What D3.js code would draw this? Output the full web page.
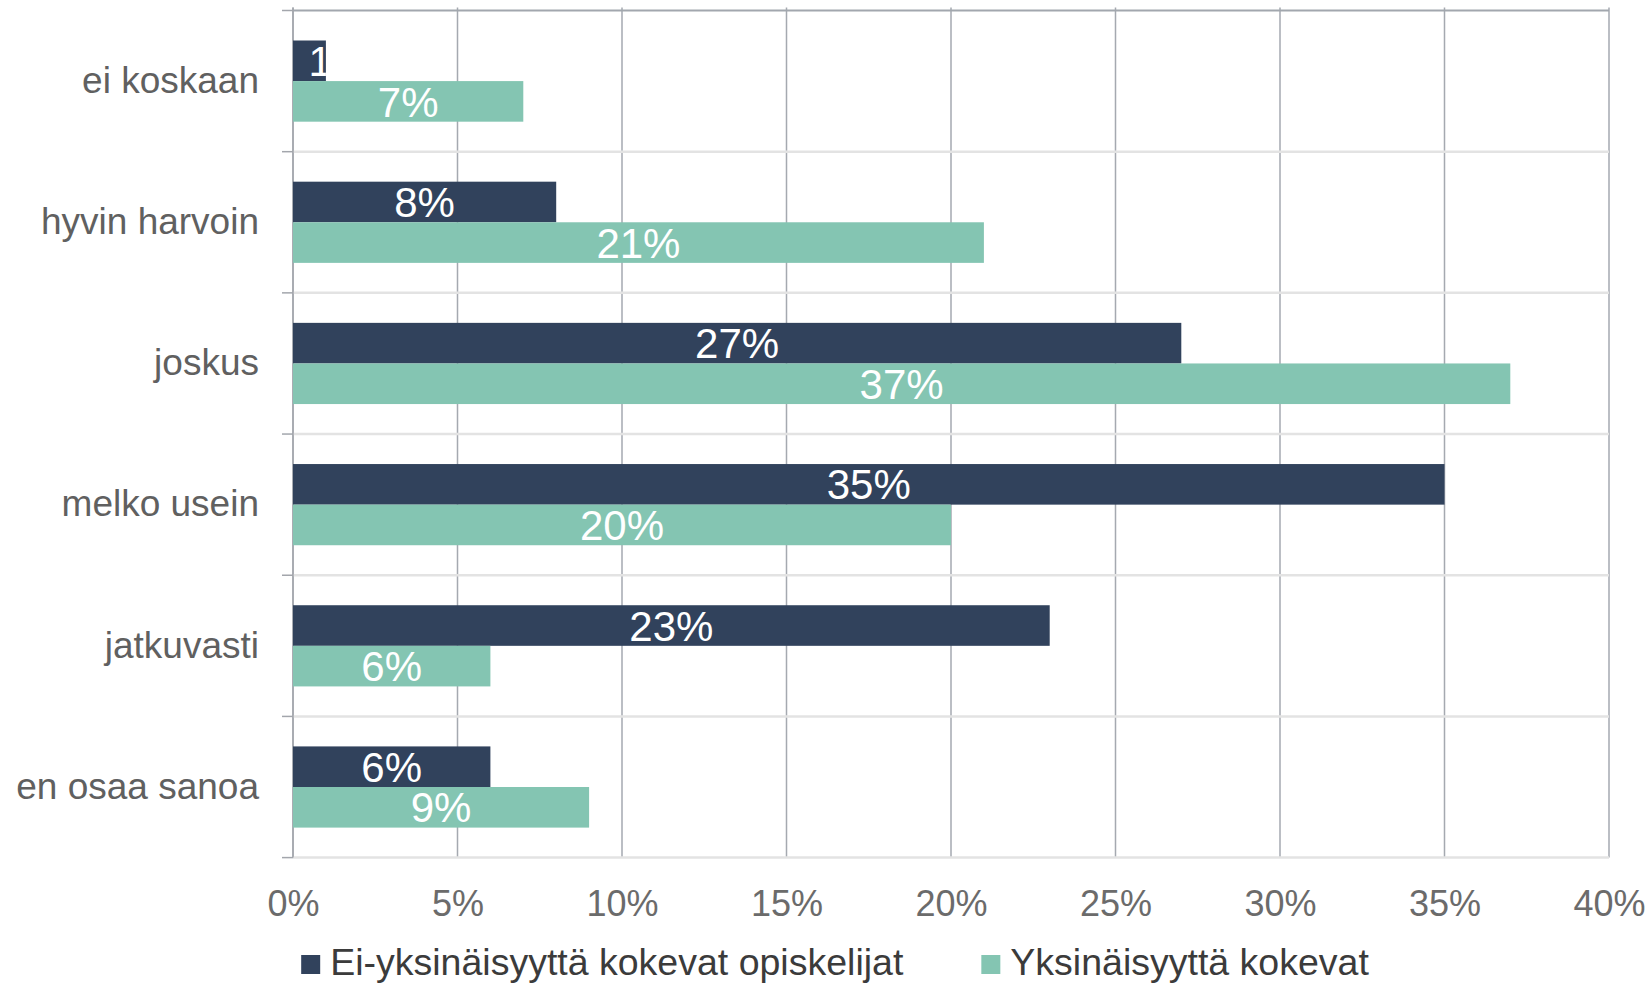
<!DOCTYPE html>
<html>
<head>
<meta charset="utf-8">
<script src="https://cdn.jsdelivr.net/npm/d3@7"></script>
<style>
  html, body { margin: 0; padding: 0; background: #ffffff; }
  svg { display: block; font-family: "Liberation Sans", Arial, sans-serif; }
</style>
</head>
<body>
<svg id="chart" width="1652" height="984"></svg>
<script>
// Answer categories, top to bottom
const categories = ["ei koskaan", "hyvin harvoin", "joskus", "melko usein", "jatkuvasti", "en osaa sanoa"];
// Series names (legend order)
const seriesNames = ["Ei-yksinäisyyttä kokevat opiskelijat", "Yksinäisyyttä kokevat"];
// Shares in percent
const notLonely = [1, 8, 27, 35, 23, 6];
const lonely = [7, 21, 37, 20, 6, 9];
// Value axis ticks
const xTicks = [0, 5, 10, 15, 20, 25, 30, 35, 40];

const colors = ["#31425c", "#84c5b2"];
const seriesValues = [notLonely, lonely];

const svg = d3.select("#chart");
const margin = { left: 293, right: 1609, top: 10.5, bottom: 857.6 };

const x = d3.scaleLinear().domain([0, 40]).range([margin.left, margin.right]);
const y = d3.scaleBand().domain(categories).range([margin.top, margin.bottom]).paddingInner(0).paddingOuter(0);
const ySub = d3.scaleBand().domain(seriesNames).range([0, y.bandwidth()]).paddingInner(0).paddingOuter(0.739);

// Vertical gridlines
svg.append("g")
  .selectAll("line")
  .data(xTicks)
  .join("line")
  .attr("x1", d => x(d)).attr("x2", d => x(d))
  .attr("y1", margin.top - 3).attr("y2", margin.bottom)
  .attr("stroke", "#a5a9b0")
  .attr("stroke-width", 1.5);

// Horizontal category separators
const bounds = categories.map(c => y(c)).concat([margin.bottom]);
svg.append("g")
  .selectAll("line")
  .data(bounds.slice(1))
  .join("line")
  .attr("x1", margin.left).attr("x2", margin.right)
  .attr("y1", d => d).attr("y2", d => d)
  .attr("stroke", "#e3e3e3")
  .attr("stroke-width", 2.5);

// Top border
svg.append("line")
  .attr("x1", margin.left).attr("x2", margin.right)
  .attr("y1", margin.top).attr("y2", margin.top)
  .attr("stroke", "#a2a7ae")
  .attr("stroke-width", 2);

// Category axis line and tick marks
svg.append("line")
  .attr("x1", margin.left).attr("x2", margin.left)
  .attr("y1", margin.top - 3).attr("y2", margin.bottom)
  .attr("stroke", "#a3a6ac")
  .attr("stroke-width", 1.5);
svg.append("g")
  .selectAll("line")
  .data(bounds)
  .join("line")
  .attr("x1", margin.left - 11).attr("x2", margin.left)
  .attr("y1", d => d).attr("y2", d => d)
  .attr("stroke", "#a3a6ac")
  .attr("stroke-width", 1.5);

// Bars
const defs = svg.append("defs");
const rows = [];
categories.forEach((c, i) => {
  seriesNames.forEach((s, j) => {
    rows.push({ cat: c, series: s, value: seriesValues[j][i], color: colors[j], id: `clip-${i}-${j}` });
  });
});

svg.append("g")
  .selectAll("rect")
  .data(rows)
  .join("rect")
  .attr("x", x(0))
  .attr("y", d => y(d.cat) + ySub(d.series))
  .attr("width", d => x(d.value) - x(0))
  .attr("height", ySub.bandwidth())
  .attr("fill", d => d.color);

// Clip each value label to its bar
defs.selectAll("clipPath")
  .data(rows)
  .join("clipPath")
  .attr("id", d => d.id)
  .append("rect")
  .attr("x", x(0))
  .attr("y", d => y(d.cat) + ySub(d.series))
  .attr("width", d => x(d.value) - x(0))
  .attr("height", ySub.bandwidth());

// Value labels, centred in bars (labels wider than a bar start at its centre)
const labels = svg.append("g")
  .selectAll("text")
  .data(rows)
  .join("text")
  .attr("clip-path", d => `url(#${d.id})`)
  .attr("y", d => y(d.cat) + ySub(d.series) + ySub.bandwidth() / 2)
  .attr("dy", "0.36em")
  .attr("fill", "#ffffff")
  .attr("font-size", 42)
  .text(d => d.value + "%");

labels.each(function(d) {
  const t = d3.select(this);
  const w = this.getComputedTextLength();
  const barW = x(d.value) - x(0);
  const cx = x(0) + barW / 2;
  if (w > barW) {
    t.attr("x", cx - 1).attr("text-anchor", "start");
  } else {
    t.attr("x", cx).attr("text-anchor", "middle");
  }
});

// Category labels
const yAxis = svg.append("g")
  .attr("transform", `translate(${margin.left},0)`)
  .call(d3.axisLeft(y).tickSize(0).tickPadding(34));
yAxis.select(".domain").remove();
yAxis.selectAll("text")
  .attr("font-family", "'Liberation Sans', Arial, sans-serif")
  .attr("font-size", 37)
  .attr("fill", "#606060")
  .attr("dy", "0.32em");

// Value axis labels
const xAxis = svg.append("g")
  .call(d3.axisBottom(x).tickValues(xTicks).tickFormat(d => d + "%").tickSize(0));
xAxis.select(".domain").remove();
xAxis.selectAll("text")
  .attr("font-family", "'Liberation Sans', Arial, sans-serif")
  .attr("font-size", 36)
  .attr("fill", "#6b6b6b")
  .attr("y", 916)
  .attr("dy", 0);

// Legend
const legend = svg.append("g");
const items = legend.selectAll("g")
  .data(seriesNames)
  .join("g");
items.append("rect")
  .attr("width", 19).attr("height", 19)
  .attr("y", 955)
  .attr("fill", (d, i) => colors[i]);
items.append("text")
  .attr("y", 975)
  .attr("font-size", 37.5)
  .attr("fill", "#3b3b3b")
  .text(d => d);

let cursor = 0;
const gapAfterText = 78;
items.each(function() {
  const g = d3.select(this);
  const tw = g.select("text").node().getComputedTextLength();
  g.select("rect").attr("x", cursor);
  g.select("text").attr("x", cursor + 29);
  cursor += 29 + tw + gapAfterText;
});
const totalW = cursor - gapAfterText;
legend.attr("transform", `translate(${835 - totalW / 2},0)`);
</script>
</body>
</html>
